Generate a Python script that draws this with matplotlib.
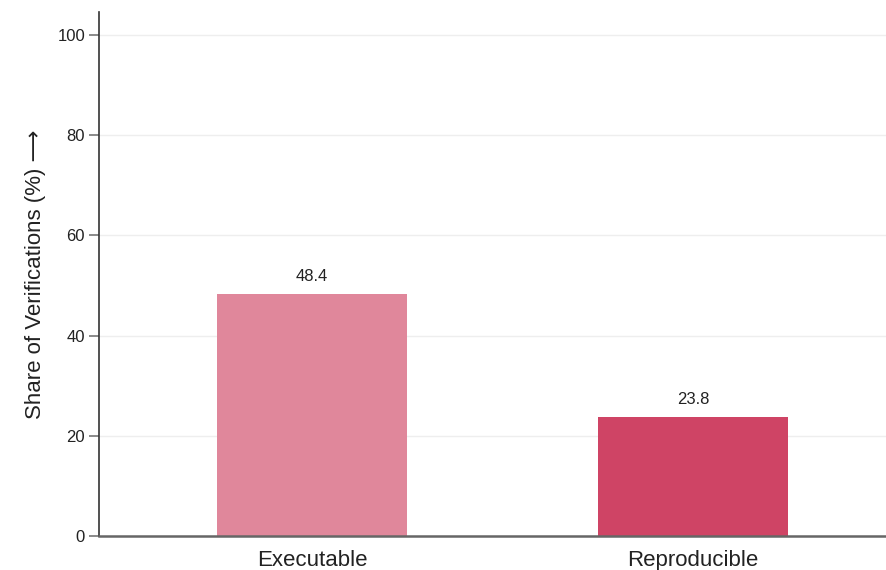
import matplotlib.pyplot as plt

plt.rcParams['font.family'] = ['Liberation Sans', 'DejaVu Sans']

categories = ["Executable", "Reproducible"]
values = [48.4, 23.8]
colors = ["#e0879b", "#cf4465"]
yticks = [0, 20, 40, 60, 80, 100]

fig = plt.figure(figsize=(8.86, 5.70), dpi=100)
ax = fig.add_axes([0.1117, 0.0596, 0.8883, 0.9194])

x = list(range(len(categories)))
bars = ax.bar(x, values, width=0.5, color=colors, zorder=2)
for b, v in zip(bars, values):
    ax.annotate(f"{v}", (b.get_x() + b.get_width() / 2, v), xytext=(0, 7),
                textcoords="offset points", ha="center", va="bottom",
                fontsize=12, color="#222222")

ax.set_xlim(-0.559, 1.507)
ax.set_ylim(0, 104.6)
ax.set_yticks(yticks)
ax.set_xticks(x)
ax.set_xticklabels(categories, fontsize=16, color="#222222")
ax.tick_params(axis="y", labelsize=12, labelcolor="#222222", color="#777777",
               length=7, width=1.2, pad=3)
ax.tick_params(axis="x", length=0, pad=10)
ax.grid(axis="y", color="#eeeeee", linewidth=1, zorder=0)
ax.set_axisbelow(True)

for s in ["top", "right"]:
    ax.spines[s].set_visible(False)
ax.spines["left"].set_color("#333333")
ax.spines["left"].set_linewidth(1.2)
ax.spines["bottom"].set_color("#666666")
ax.spines["bottom"].set_linewidth(1.8)

ax.set_ylabel("Share of Verifications (%) \u27f6", fontsize=16, color="#222222",
              labelpad=8)

fig.savefig("out.png", dpi=100)
